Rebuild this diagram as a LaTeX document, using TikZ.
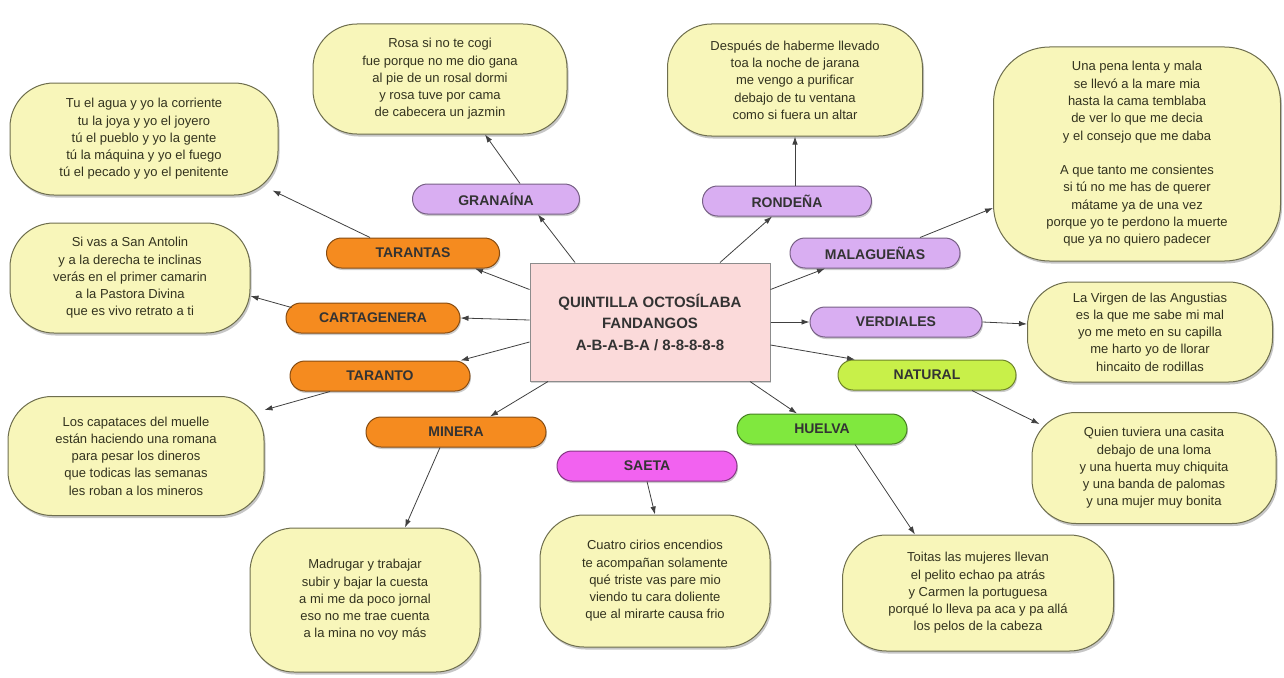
\documentclass[tikz,border=0pt]{standalone}
\usepackage{fontspec}
\setmainfont{Liberation Sans}
\usetikzlibrary{arrows.meta,shadows}

\definecolor{amarillo}{HTML}{F8F6BA}
\definecolor{bordeverso}{HTML}{6E6E4E}
\definecolor{textoverso}{HTML}{33331F}
\definecolor{rosa}{HTML}{FBDADA}
\definecolor{morado}{HTML}{D9AEF2}
\definecolor{naranja}{HTML}{F58B1F}
\definecolor{lima}{HTML}{C8F049}
\definecolor{verde}{HTML}{80E83E}
\definecolor{fucsia}{HTML}{F262F0}

\begin{document}
\begin{tikzpicture}[x=1pt, y=-1pt,
	verso/.style={shape=rectangle, draw=bordeverso, fill=amarillo, line width=1pt, rounded corners=44pt, inner sep=0pt, align=center, text=textoverso, font=\fontsize{13}{17.3}\selectfont, drop shadow={shadow xshift=1.5pt, shadow yshift=-2.5pt, opacity=0.45}},
	palo/.style={shape=rectangle, draw=#1!55!black, fill=#1, line width=1pt, rounded corners=15pt, inner sep=0pt, minimum height=30pt, text=black!80, font=\fontsize{14}{16}\selectfont\bfseries, drop shadow={shadow xshift=1pt, shadow yshift=-2pt, opacity=0.4}},
	centro/.style={shape=rectangle, draw=black!45, fill=rosa, line width=1pt, inner sep=0pt, align=center, text=black!80, font=\fontsize{15}{21.5}\selectfont\bfseries, drop shadow={shadow xshift=1pt, shadow yshift=-2pt, opacity=0.35}},
	flecha/.style={-{Latex[length=8pt,width=5.5pt]}, draw=black!75, line width=0.8pt}]
	\useasboundingbox (0,0) rectangle (1284,677);
	% Centre:
	\node[centro, minimum width=240pt, minimum height=118pt] (cen) at (650,322){QUINTILLA OCTOSÍLABA\\FANDANGOS\\A-B-A-B-A / 8-8-8-8-8};
	% Palos:
	\node[palo=morado, minimum width=167pt] (gra) at (496,199){GRANAÍNA};
	\node[palo=morado, minimum width=169pt] (ron) at (787,201){RONDEÑA};
	\node[palo=naranja, minimum width=173pt] (tas) at (413,253){TARANTAS};
	\node[palo=morado, minimum width=170pt] (mal) at (875,253){MALAGUEÑAS};
	\node[palo=naranja, minimum width=174pt] (car) at (373,318){CARTAGENERA};
	\node[palo=morado, minimum width=172pt] (ver) at (896,322){VERDIALES};
	\node[palo=naranja, minimum width=180pt] (tao) at (380,376){TARANTO};
	\node[palo=lima, minimum width=178pt] (nat) at (927,375){NATURAL};
	\node[palo=naranja, minimum width=180pt] (min) at (456,432){MINERA};
	\node[palo=verde, minimum width=170pt] (hue) at (822,429){HUELVA};
	\node[palo=fucsia, minimum width=180pt] (sae) at (647,466){SAETA};
	% Letras:
	\node[verso, minimum width=268pt, minimum height=112pt] (t_tas) at (144,139){Tu el agua y yo la corriente\\tu la joya y yo el joyero\\tú el pueblo y yo la gente\\tú la máquina y yo el fuego\\tú el pecado y yo el penitente};
	\node[verso, minimum width=254pt, minimum height=110pt] (t_gra) at (440,79){Rosa si no te cogi\\fue porque no me dio gana\\al pie de un rosal dormi\\y rosa tuve por cama\\de cabecera un jazmin};
	\node[verso, minimum width=255pt, minimum height=112pt] (t_ron) at (795,80){Después de haberme llevado\\toa la noche de jarana\\me vengo a purificar\\debajo de tu ventana\\como si fuera un altar};
	\node[verso, minimum width=287pt, minimum height=214pt, rounded corners=56pt] (t_mal) at (1137,154){Una pena lenta y mala\\se llevó a la mare mia\\hasta la cama temblaba\\de ver lo que me decia\\y el consejo que me daba\\[17.3pt]A que tanto me consientes\\si tú no me has de querer\\mátame ya de una vez\\porque yo te perdono la muerte\\que ya no quiero padecer};
	\node[verso, minimum width=240pt, minimum height=110pt] (t_car) at (130,278){Si vas a San Antolin\\y a la derecha te inclinas\\verás en el primer camarin\\a la Pastora Divina\\que es vivo retrato a ti};
	\node[verso, minimum width=245pt, minimum height=100pt] (t_ver) at (1150,332){La Virgen de las Angustias\\es la que me sabe mi mal\\yo me meto en su capilla\\me harto yo de llorar\\hincaito de rodillas};
	\node[verso, minimum width=256pt, minimum height=119pt] (t_tao) at (136,456){Los capataces del muelle\\están haciendo una romana\\para pesar los dineros\\que todicas las semanas\\les roban a los mineros};
	\node[verso, minimum width=244pt, minimum height=111pt] (t_nat) at (1154,468){Quien tuviera una casita\\debajo de una loma\\y una huerta muy chiquita\\y una banda de palomas\\y una mujer muy bonita};
	\node[verso, minimum width=230pt, minimum height=144pt] (t_min) at (365,600){Madrugar y trabajar\\subir y bajar la cuesta\\a mi me da poco jornal\\eso no me trae cuenta\\a la mina no voy más};
	\node[verso, minimum width=230pt, minimum height=132pt] (t_sae) at (655,581){Cuatro cirios encendios\\te acompañan solamente\\qué triste vas pare mio\\viendo tu cara doliente\\que al mirarte causa frio};
	\node[verso, minimum width=271pt, minimum height=116pt] (t_hue) at (978,593){Toitas las mujeres llevan\\el pelito echao pa atrás\\y Carmen la portuguesa\\porqué lo lleva pa aca y pa allá\\los pelos de la cabeza};
	% Centre to palos:
	\draw[flecha] ([xshift=-75pt]cen.north) -- ([xshift=42pt]gra.south);
	\draw[flecha] ([xshift=70pt]cen.north) -- ([xshift=-15pt]ron.south);
	\draw[flecha] ([yshift=-27pt]cen.north west) -- ([xshift=62pt]tas.south);
	\draw[flecha] ([yshift=-27pt]cen.north east) -- ([xshift=-50pt]mal.south);
	\draw[flecha] ([yshift=2pt]cen.west) -- (car.east);
	\draw[flecha] (cen.east) -- (ver.west);
	\draw[flecha] ([yshift=-20pt]cen.west) -- ([xshift=-10pt]tao.north east);
	\draw[flecha] ([yshift=-23pt]cen.east) -- ([xshift=-72pt]nat.north);
	\draw[flecha] ([xshift=-102pt]cen.south) -- ([xshift=34pt]min.north);
	\draw[flecha] ([xshift=100pt]cen.south) -- ([xshift=-25pt]hue.north);
	% Palos to letras:
	\draw[flecha] ([xshift=24pt]gra.north) -- ([xshift=45pt]t_gra.south);
	\draw[flecha] ([xshift=8pt]ron.north) -- (t_ron.south);
	\draw[flecha] ([xshift=-43pt]tas.north) -- ([xshift=-6pt, yshift=5pt]t_tas.south east);
	\draw[flecha] ([xshift=45pt]mal.north) -- ([yshift=-54pt]t_mal.west);
	\draw[flecha] ([xshift=6pt, yshift=-5pt]car.north west) -- ([yshift=-18pt]t_car.east);
	\draw[flecha] (ver.east) -- ([yshift=8pt]t_ver.west);
	\draw[flecha] ([xshift=-50pt]tao.south) -- ([yshift=46pt]t_tao.east);
	\draw[flecha] ([xshift=45pt]nat.south) -- ([xshift=8pt, yshift=-12pt]t_nat.north west);
	\draw[flecha] ([xshift=-16pt]min.south) -- ([xshift=40pt]t_min.north);
	\draw[flecha] (sae.south) -- (t_sae.north);
	\draw[flecha] ([xshift=33pt]hue.south) -- ([xshift=-63pt]t_hue.north);
\end{tikzpicture}
\end{document}
